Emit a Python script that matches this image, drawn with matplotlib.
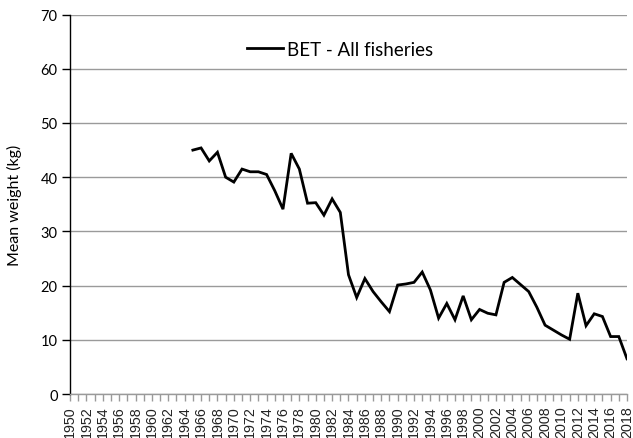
import matplotlib
matplotlib.use("Agg")
import matplotlib.pyplot as plt
import numpy as np

# Axis range and data
axis_years = list(range(1950, 2019))
years = list(range(1965, 2019))
mean_weight = [
    45.0, 45.4, 43.0, 44.6, 40.0, 39.1, 41.5, 41.0, 41.0, 40.5,
    37.5, 34.1, 44.4, 41.5, 35.2, 35.3, 33.0, 36.0, 33.5, 22.0,
    17.8, 21.3, 18.9, 17.0, 15.2, 20.1, 20.3, 20.6, 22.5, 19.2,
    14.0, 16.7, 13.7, 18.1, 13.7, 15.6, 14.9, 14.6, 20.6, 21.5,
    20.2, 18.9, 16.0, 12.7, 11.8, 10.9, 10.1, 18.6, 12.6, 14.8,
    14.3, 10.6, 10.6, 6.5,
]
series_label = "BET - All fisheries"
y_ticks = [0, 10, 20, 30, 40, 50, 60, 70]

fig = plt.figure(figsize=(6.33, 4.39), dpi=100)
ax = fig.add_axes([0.1106, 0.1002, 0.8799, 0.8643])

ax.plot(years, mean_weight, color="black", lw=2.0, label=series_label,
        solid_joinstyle="miter")

ax.set_xlim(axis_years[0], axis_years[-1])
ax.set_ylim(0, 70)

ax.set_yticks(y_ticks)
ax.set_yticklabels([str(t) for t in y_ticks], fontfamily="Lato", fontsize=10.5)
ax.grid(axis="y", color="#9a9a9a", lw=1.0)
ax.set_axisbelow(True)

major = [y for y in axis_years if y % 2 == 0]
minor = [y for y in axis_years if y % 2 == 1]
ax.set_xticks(major)
ax.set_xticks(minor, minor=True)
ax.set_xticklabels([str(y) for y in major], rotation=90,
                   fontfamily="Liberation Sans", fontsize=10.3, color="#222222")
ax.tick_params(axis="x", which="both", direction="out", length=5,
               color="#9a9a9a", width=1, pad=3)
ax.tick_params(axis="y", direction="out", length=6, color="black", width=1, pad=3)

for s in ["top", "right"]:
    ax.spines[s].set_visible(False)
ax.spines["left"].set_color("black")
ax.spines["left"].set_linewidth(1.0)
ax.spines["bottom"].set_color("#9a9a9a")
ax.spines["bottom"].set_linewidth(1.0)

ax.set_ylabel("Mean weight (kg)", fontfamily="Lato", fontsize=11.5, labelpad=13)

leg = ax.legend(loc="center", bbox_to_anchor=(0.485, 0.909), frameon=False,
                prop={"family": "Lato", "size": 13.5}, handlelength=1.9,
                handletextpad=0.2)

fig.savefig("out.png", dpi=100)
